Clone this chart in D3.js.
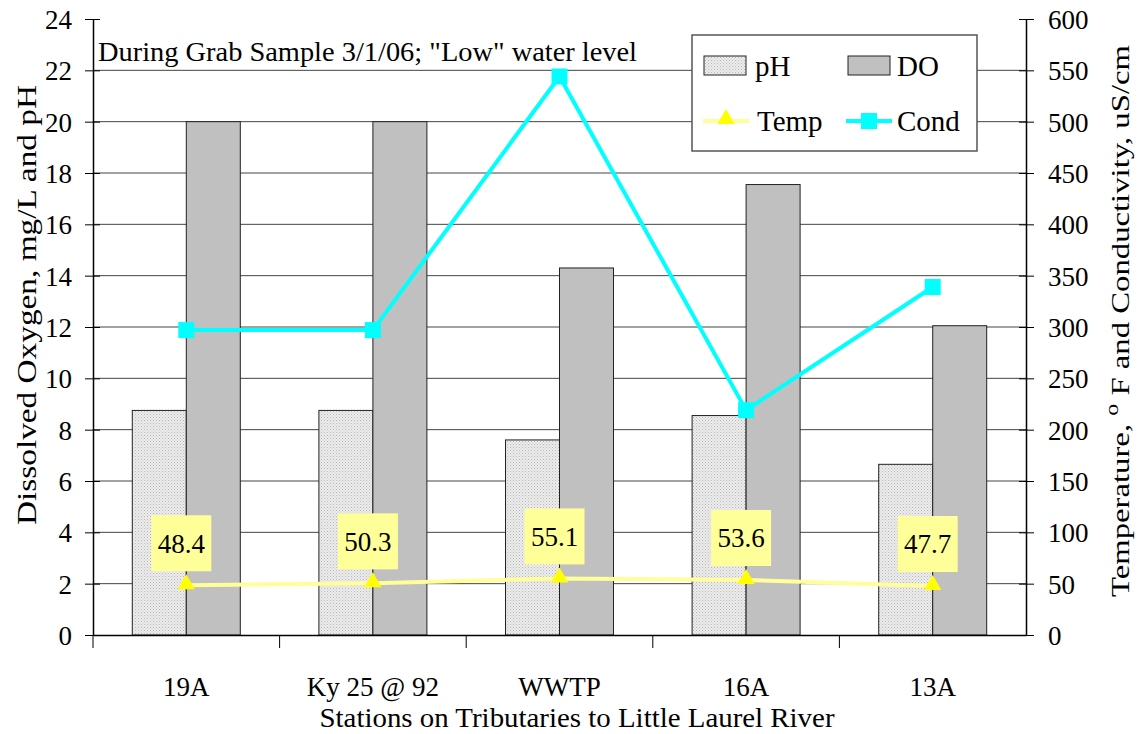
<!DOCTYPE html>
<html>
<head>
    <script src="https://d3js.org/d3.v7.min.js"></script>
    <style>
        body { margin: 0; background: #fff; }
    </style>
</head>
<body>
    <svg width="1144" height="734"></svg>

    <script>
        const width = 1144, height = 734;
        const margin = { top: 19, right: 118, bottom: 99, left: 93 };
        const svg = d3.select("svg");
        const serif = "'Liberation Serif', 'DejaVu Serif', serif";

        // data
        const stations = ["19A", "Ky 25 @ 92", "WWTP", "16A", "13A"];
        const phValues = [8.75, 8.75, 7.6, 8.55, 6.65];
        const doValues = [20, 20, 14.3, 17.55, 12.05];
        const tempValues = [48.4, 50.3, 55.1, 53.6, 47.7];
        const condValues = [297, 297, 544, 219, 339];
        const leftTicks = [0, 2, 4, 6, 8, 10, 12, 14, 16, 18, 20, 22, 24];
        const rightTicks = [0, 50, 100, 150, 200, 250, 300, 350, 400, 450, 500, 550, 600];
        const gridTicks = [2, 4, 6, 8, 10, 12, 14, 16, 18, 20, 22];

        const x0 = margin.left, x1 = width - margin.right;
        const yBottom = height - margin.bottom;

        // scales
        const x = d3.scaleBand().domain(stations).range([x0, x1]);
        const sub = d3.scaleBand().domain(["pH", "DO"])
            .range([x.bandwidth() / 2 - 54, x.bandwidth() / 2 + 54]);
        const y = d3.scaleLinear().domain([0, 24]).range([yBottom, margin.top]);
        const y2 = d3.scaleLinear().domain([0, 600]).range([yBottom, margin.top]);
        const cx = d => x(d) + x.bandwidth() / 2;

        // dotted pattern for pH bars
        const defs = svg.append("defs");
        const pat = defs.append("pattern").attr("id", "dots")
            .attr("width", 3).attr("height", 3).attr("patternUnits", "userSpaceOnUse");
        pat.append("rect").attr("width", 3).attr("height", 3).attr("fill", "#ececec");
        pat.append("rect").attr("width", 1).attr("height", 1).attr("fill", "#b8b8b8");
        pat.append("rect").attr("x", 1.5).attr("y", 1.5).attr("width", 1).attr("height", 1).attr("fill", "#c8c8c8");

        // gridlines
        svg.append("g").selectAll("line").data(gridTicks).enter().append("line")
            .attr("x1", x0).attr("x2", x1)
            .attr("y1", d => y(d)).attr("y2", d => y(d))
            .attr("stroke", "#444").attr("stroke-width", 1);

        // bars
        const bars = svg.append("g");
        bars.selectAll("rect.ph").data(stations).enter().append("rect")
            .attr("class", "ph")
            .attr("x", d => x(d) + sub("pH"))
            .attr("y", (d, i) => y(phValues[i]))
            .attr("width", sub.bandwidth())
            .attr("height", (d, i) => yBottom - y(phValues[i]))
            .attr("fill", "url(#dots)").attr("stroke", "#222").attr("stroke-width", 1);
        bars.selectAll("rect.do").data(stations).enter().append("rect")
            .attr("class", "do")
            .attr("x", d => x(d) + sub("DO"))
            .attr("y", (d, i) => y(doValues[i]))
            .attr("width", sub.bandwidth())
            .attr("height", (d, i) => yBottom - y(doValues[i]))
            .attr("fill", "#c0c0c0").attr("stroke", "#222").attr("stroke-width", 1);

        // axes
        const leftAxis = svg.append("g")
            .attr("transform", `translate(${x0},0)`)
            .call(d3.axisLeft(y).tickValues(leftTicks).tickSizeOuter(0).tickPadding(15));
        leftAxis.selectAll(".tick line").attr("x1", -8).attr("x2", 7);
        leftAxis.selectAll(".tick text").attr("font-size", 27).attr("dy", "0.35em");

        const rightAxis = svg.append("g")
            .attr("transform", `translate(${x1},0)`)
            .call(d3.axisRight(y2).tickValues(rightTicks).tickSizeOuter(0).tickPadding(16));
        rightAxis.selectAll(".tick line").attr("x1", -7).attr("x2", 8);
        rightAxis.selectAll(".tick text").attr("font-size", 27).attr("dy", "0.35em");

        const xAxis = svg.append("g")
            .attr("transform", `translate(0,${yBottom})`)
            .call(d3.axisBottom(x).tickSize(0).tickSizeOuter(0).tickPadding(42));
        xAxis.selectAll(".tick text").attr("font-size", 27);
        // boundary ticks below the category axis
        xAxis.selectAll("line.bound").data(stations).enter().append("line")
            .attr("class", "bound")
            .attr("x1", d => x(d)).attr("x2", d => x(d))
            .attr("y1", 0).attr("y2", 13)
            .attr("stroke", "#000");
        svg.selectAll(".domain").attr("stroke", "#000").attr("stroke-width", 1.5);

        // temperature line
        const tempLine = d3.line().x((d, i) => cx(stations[i])).y(d => y2(d));
        svg.append("path").datum(tempValues)
            .attr("d", tempLine).attr("fill", "none")
            .attr("stroke", "#ffff99").attr("stroke-width", 4);

        // conductivity line
        const condLine = d3.line().x((d, i) => cx(stations[i])).y(d => y2(d));
        svg.append("path").datum(condValues)
            .attr("d", condLine).attr("fill", "none")
            .attr("stroke", "#00ffff").attr("stroke-width", 4);

        // markers
        svg.append("g").selectAll("path").data(tempValues).enter().append("path")
            .attr("d", d3.symbol().type(d3.symbolTriangle).size(130))
            .attr("transform", (d, i) => `translate(${cx(stations[i])},${y2(d) - 1})`)
            .attr("fill", "#ffff00");
        svg.append("g").selectAll("rect").data(condValues).enter().append("rect")
            .attr("x", (d, i) => cx(stations[i]) - 8)
            .attr("y", d => y2(d) - 8)
            .attr("width", 16).attr("height", 16)
            .attr("fill", "#00ffff");

        // temperature labels
        const lab = svg.append("g").selectAll("g").data(tempValues).enter().append("g")
            .attr("transform", (d, i) => `translate(${cx(stations[i]) - 5},${y2(d) - 42})`);
        lab.append("rect").attr("x", -30).attr("y", -28).attr("width", 60).attr("height", 56)
            .attr("fill", "#ffff99");
        lab.append("text").attr("text-anchor", "middle").attr("dy", "0.35em")
            .attr("font-size", 27).text(d => d.toFixed(1));

        // annotation
        svg.append("text").attr("x", 98).attr("y", 61).attr("font-size", 27)
            .attr("textLength", 539).attr("lengthAdjust", "spacingAndGlyphs")
            .text("During Grab Sample 3/1/06; \"Low\" water level");

        // legend
        const lg = svg.append("g");
        lg.append("rect").attr("x", 692).attr("y", 35).attr("width", 285).attr("height", 116)
            .attr("fill", "#fff").attr("stroke", "#555").attr("stroke-width", 1.5);
        lg.append("rect").attr("x", 704).attr("y", 56).attr("width", 42).attr("height", 19)
            .attr("fill", "url(#dots)").attr("stroke", "#222");
        lg.append("text").attr("x", 755).attr("y", 76).attr("font-size", 29).text("pH");
        lg.append("rect").attr("x", 848).attr("y", 56).attr("width", 42).attr("height", 19)
            .attr("fill", "#c0c0c0").attr("stroke", "#222");
        lg.append("text").attr("x", 897).attr("y", 76).attr("font-size", 29).text("DO");
        lg.append("line").attr("x1", 703).attr("x2", 749).attr("y1", 121).attr("y2", 121)
            .attr("stroke", "#ffff99").attr("stroke-width", 4);
        lg.append("path").attr("d", d3.symbol().type(d3.symbolTriangle).size(130))
            .attr("transform", "translate(726,119)").attr("fill", "#ffff00");
        lg.append("text").attr("x", 757).attr("y", 131).attr("font-size", 29).text("Temp");
        lg.append("line").attr("x1", 846).attr("x2", 892).attr("y1", 121).attr("y2", 121)
            .attr("stroke", "#00ffff").attr("stroke-width", 4);
        lg.append("rect").attr("x", 861).attr("y", 113).attr("width", 16).attr("height", 16)
            .attr("fill", "#00ffff");
        lg.append("text").attr("x", 897).attr("y", 131).attr("font-size", 29).text("Cond");

        // axis titles
        svg.append("text")
            .attr("transform", "translate(36,305) rotate(-90)")
            .attr("text-anchor", "middle").attr("font-size", 27)
            .attr("textLength", 440).attr("lengthAdjust", "spacingAndGlyphs")
            .text("Dissolved Oxygen,  mg/L and pH");
        const rt = svg.append("text")
            .attr("transform", "translate(1129,321) rotate(-90)")
            .attr("text-anchor", "middle").attr("font-size", 26)
            .attr("textLength", 552).attr("lengthAdjust", "spacingAndGlyphs");
        rt.append("tspan").text("Temperature,  ");
        rt.append("tspan").attr("dy", -11).attr("font-size", 19).text("o");
        rt.append("tspan").attr("dy", 11).text(" F and Conductivity,  uS/cm");
        svg.append("text")
            .attr("x", 577).attr("y", 727)
            .attr("text-anchor", "middle").attr("font-size", 27)
            .attr("textLength", 515).attr("lengthAdjust", "spacingAndGlyphs")
            .text("Stations on Tributaries to Little Laurel River");

        // one serif face for all text
        svg.selectAll("text").style("font-family", serif).style("fill", "#000");
        svg.selectAll("g").attr("font-family", null);
    </script>
</body>
</html>
